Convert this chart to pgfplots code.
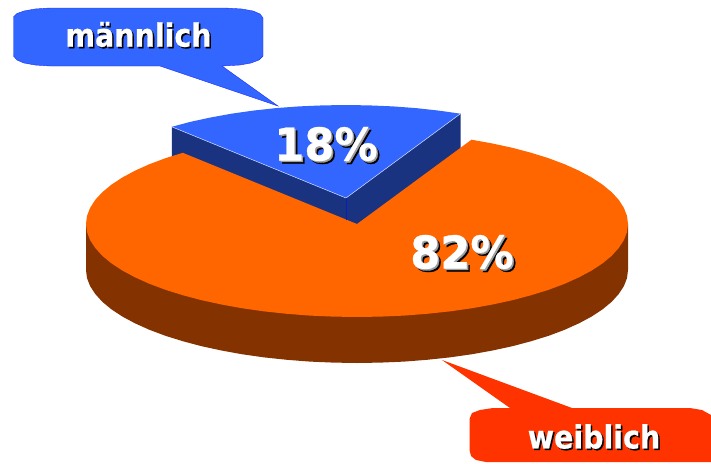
\documentclass[border=0pt]{standalone}
\usepackage{pgfplots}
\pgfplotsset{compat=1.18}
\usepackage{fontspec}
\newfontfamily\lab[FakeStretch=0.89,FakeBold=0.6]{DejaVu Sans Bold}
\newfontfamily\pct[FakeStretch=0.96,FakeBold=0.6]{DejaVu Sans Bold}
\definecolor{bluetop}{HTML}{3366FF}
\definecolor{blueside}{HTML}{1A3380}
\definecolor{orangetop}{HTML}{FF6600}
\definecolor{brownside}{HTML}{833200}
\definecolor{redbox}{HTML}{FF3300}
\definecolor{shade}{HTML}{A0A0A0}
\begin{document}
\begin{tikzpicture}
\begin{axis}[
  scale only axis, width=711pt, height=463pt,
  xmin=0, xmax=711, ymin=0, ymax=463, y dir=reverse,
  axis line style={draw=none}, ticks=none, clip=true,
]
% brown side of the large slice
\addplot[fill=brownside, draw=none] coordinates {
(86,224)(628,224)(628,270)(627,278.1)(623.9,286.1)(618.8,293.9)(611.7,301.8)(602.6,309.3)(591.7,316.5)(579,323.3)(564.6,329.8)(548.6,335.8)(531.2,341.2)(512.4,346.2)(492.5,350.5)(471.6,354.3)(449.7,357.4)(427.1,359.8)(404.1,361.6)(380.6,362.6)(357,363)(333.4,362.6)(309.9,361.6)(286.9,359.8)(264.3,357.4)(242.4,354.3)(221.5,350.5)(201.6,346.2)(182.8,341.2)(165.4,335.8)(149.4,329.8)(135,323.3)(122.3,316.5)(111.4,309.3)(102.3,301.8)(95.2,293.9)(90.1,286.1)(87,278.1)(86,270)
} -- cycle;
% blue side of the pulled-out slice
\addplot[fill=blueside, draw=none] coordinates {
(171.8,126.8)(346,198)(460.5,113.7)(460.5,159.7)(346,244)(171.8,172.8)
} -- cycle;
% orange top of the large slice
\addplot[fill=orangetop, draw=none] coordinates {
(357,224)(471.5,139.7)(492.5,143.5)(512.4,147.8)(531.2,152.8)(548.6,158.2)(564.6,164.2)(579,170.7)(591.7,177.5)(602.6,184.7)(611.7,192.2)(618.8,199.9)(623.9,207.9)(627,215.9)(628,224)(627,232.1)(623.9,240.1)(618.8,247.9)(611.7,255.8)(602.6,263.3)(591.7,270.5)(579,277.3)(564.6,283.8)(548.6,289.8)(531.2,295.2)(512.4,300.2)(492.5,304.5)(471.6,308.3)(449.7,311.4)(427.1,313.8)(404.1,315.6)(380.6,316.6)(357,317)(333.4,316.6)(309.9,315.6)(286.9,313.8)(264.3,311.4)(242.4,308.3)(221.5,304.5)(201.6,300.2)(182.8,295.2)(165.4,289.8)(149.4,283.8)(135,277.3)(122.3,270.5)(111.4,263.3)(102.3,255.8)(95.2,247.9)(90.1,240.1)(87,232.1)(86,224)(87,215.9)(90.1,207.9)(95.2,199.9)(102.3,192.2)(111.4,184.7)(122.3,177.5)(135,170.7)(149.4,164.2)(165.4,158.2)(182.8,152.8)
} -- cycle;
% blue top of the pulled-out slice
\addplot[fill=bluetop, draw=none] coordinates {
(346,198)(460.5,113.7)(438.7,110.6)(416.1,108.1)(393.1,106.4)(369.6,105.4)(346,105)(322.4,105.4)(298.9,106.4)(275.9,108.1)(253.3,110.6)(231.4,113.7)(210.5,117.5)(190.6,121.8)(171.8,126.8)
} -- cycle;
\addplot[draw=white!75!bluetop, line width=0.5pt] coordinates {(171.8,126.8)(346,198)(460.5,113.7)};
\addplot[draw=blue!45!blueside, line width=0.4pt] coordinates {(346,198)(346,219.6)};
% callout boxes
\addplot[fill=bluetop, draw=blue!55!bluetop, line width=0.4pt] coordinates {
(13.5,17)(17,13.5)(24,11)(35,9)(50,8)(225,8)(242,9)(253,11)(260,14)(263,18)(263,56)(259,60)(251,63)(240,65)(222,66)(278,106)(160,66)(50,66)(35,65)(24,63)(17,60)(13.5,56)
} -- cycle;
\addplot[fill=redbox, draw=none] coordinates {
(442,360)(572,408)(690,408)(702,410)(711,415)(711,462)(486,462)(476,460)(471,456)(469.5,450)(469.5,419)(472,413)(480,410)(493,408)(510,408)
} -- cycle;
% labels
\node[font=\lab\fontsize{32}{32}\selectfont, text=black, inner sep=0] at (axis cs:140,36) {männlich};
\node[font=\lab\fontsize{32}{32}\selectfont, text=white, inner sep=0] at (axis cs:138.5,34.5) {männlich};
\node[font=\lab\fontsize{32}{32}\selectfont, text=black, inner sep=0] at (axis cs:595.5,438) {weiblich};
\node[font=\lab\fontsize{32}{32}\selectfont, text=white, inner sep=0] at (axis cs:594,436.5) {weiblich};
\node[font=\pct\fontsize{45}{45}\selectfont, text=black, inner sep=0] at (axis cs:329,147) {18\%};
\node[font=\pct\fontsize{45}{45}\selectfont, text=shade, inner sep=0] at (axis cs:327.5,145.5) {18\%};
\node[font=\pct\fontsize{45}{45}\selectfont, text=white, inner sep=0] at (axis cs:326,144) {18\%};
\node[font=\pct\fontsize{45}{45}\selectfont, text=black, inner sep=0] at (axis cs:465,255) {82\%};
\node[font=\pct\fontsize{45}{45}\selectfont, text=shade, inner sep=0] at (axis cs:463.5,253.5) {82\%};
\node[font=\pct\fontsize{45}{45}\selectfont, text=white, inner sep=0] at (axis cs:462,252) {82\%};
\end{axis}
\end{tikzpicture}
\end{document}
